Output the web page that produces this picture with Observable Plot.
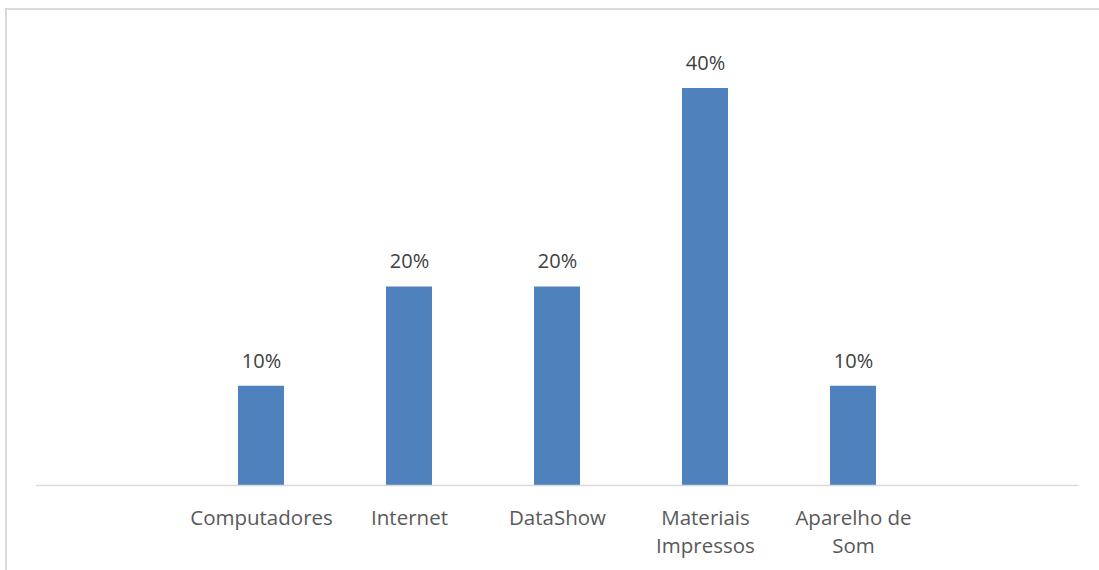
<!DOCTYPE html>
<html>
<head>
<meta charset="utf-8">
<script src="https://cdn.jsdelivr.net/npm/d3@7"></script>
<script src="https://cdn.jsdelivr.net/npm/@observablehq/plot@0.6"></script>
<style>
  html, body { margin: 0; padding: 0; background: #fff; overflow: hidden; }
  #wrap { position: relative; width: 1099px; height: 570px; overflow: hidden; }
  #chart { position: absolute; left: 0; top: 0; }
  #edgeL { position: absolute; left: 5px; top: 8px; width: 2px; height: 600px; background: #d9d9d9; }
  #edgeT { position: absolute; left: 5px; top: 8px; width: 1100px; height: 2px; background: #d9d9d9; }
</style>
</head>
<body>
<div id="wrap">
  <div id="edgeL"></div>
  <div id="edgeT"></div>
  <div id="chart"></div>
</div>
<script>
const categories = ["Computadores", "Internet", "DataShow", "Materiais Impressos", "Aparelho de Som"];
const values = [0.10, 0.20, 0.20, 0.40, 0.10];
const tickLabels = ["Computadores", "Internet", "DataShow", "Materiais\nImpressos", "Aparelho de\nSom"];

const data = categories.map((c, i) => ({category: c, value: values[i]}));
const labelMap = new Map(categories.map((c, i) => [c, tickLabels[i]]));
const domain = ["_left", ...categories, "_right"];

const font = "'Open Sans', 'Noto Sans', sans-serif";

const chart = Plot.plot({
  width: 1099,
  height: 570,
  marginLeft: 36,
  marginRight: 21,
  marginTop: 88,
  marginBottom: 85,
  style: {fontFamily: font, background: "transparent"},
  x: {domain, paddingInner: 0.687, paddingOuter: 0.3435, label: null},
  y: {domain: [0, 0.4], axis: null},
  marks: [
    Plot.barY(data, {x: "category", y: "value", fill: "#4f81bd"}),
    Plot.ruleY([0], {stroke: "#d9d9d9", strokeWidth: 1.5}),
    Plot.text(data, {x: "category", y: "value", text: d => Math.round(d.value * 100) + "%",
      dy: -25, fontSize: 20, fill: "#404040", fontFamily: font}),
    Plot.axisX({tickSize: 0, tickPadding: 19, fontSize: 20.5, lineHeight: 1.39,
      fill: "#595959", label: null, lineAnchor: "top", fontFamily: font,
      tickFormat: d => labelMap.get(d) ?? ""})
  ]
});
document.getElementById("chart").appendChild(chart);
</script>
</body>
</html>
